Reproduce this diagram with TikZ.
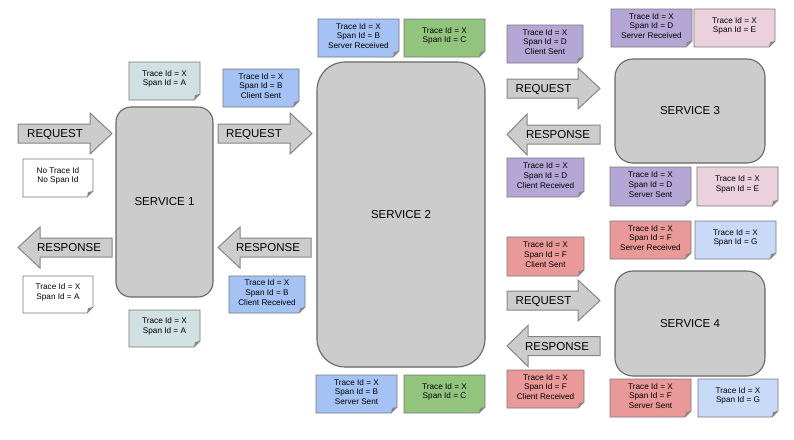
\documentclass[tikz,border=0pt]{standalone}
\usepackage{fontspec}
\setmainfont{Liberation Sans}
\usetikzlibrary{shapes.misc}

% palette
\definecolor{boxgray}{HTML}{CCCCCC}
\definecolor{svcline}{HTML}{666666}
\definecolor{arrline}{HTML}{858585}
\definecolor{noteline}{HTML}{777777}
\definecolor{foldgray}{HTML}{8A8A8A}
\definecolor{spanA}{HTML}{D0E0E3}
\definecolor{spanB}{HTML}{A4C2F4}
\definecolor{spanC}{HTML}{93C47D}
\definecolor{spanD}{HTML}{B4A7D6}
\definecolor{spanE}{HTML}{EAD1DC}
\definecolor{spanF}{HTML}{EA9999}
\definecolor{spanG}{HTML}{C9DAF8}

\tikzset{
  service/.style={draw=svcline, line width=1.1pt, fill=boxgray, rounded corners=#1,
    font=\fontsize{11.5}{13}\selectfont, inner sep=0pt},
  arrowbody/.style={draw=arrline, line width=1pt, fill=boxgray, line join=miter},
  arrowlabel/.style={font=\fontsize{11.5}{13}\selectfont, inner sep=0pt,
    text height=8.3pt, text depth=0pt, anchor=center},
  notebody/.style={draw=noteline, line width=0.9pt, line join=miter},
  notetext/.style={font=\fontsize{8.2}{9.7}\selectfont, align=center, inner sep=0pt}
}

% note with a folded lower right corner: name, x1, y1, x2, y2, fill, text
\newcommand\spannote[7]{%
  \filldraw[notebody, fill=#6] (#2,#3) -- (#4,#3) -- (#4,#5-6) -- (#4-6,#5) -- (#2,#5) -- cycle;
  \fill[foldgray] (#4,#5-6) -- (#4-6,#5) -- (#4-5,#5-5) -- cycle;
  \node[notetext] (#1) at ({(#2+#4)/2},{(#3+#5)/2-2}) {#7};
}
% block arrow pointing right: name, tail x, head x, tip x, mid y, label x, text
\newcommand\rightblock[7]{%
  \filldraw[arrowbody] (#2,#5-9.5) -- (#3,#5-9.5) -- (#3,#5-20.5) -- (#4,#5)
    -- (#3,#5+20.5) -- (#3,#5+9.5) -- (#2,#5+9.5) -- cycle;
  \node[arrowlabel] (#1) at (#6,#5) {#7};
}
% block arrow pointing left: name, tip x, head x, tail x, mid y, label x, text
\newcommand\leftblock[7]{%
  \filldraw[arrowbody] (#4,#5-9.5) -- (#3,#5-9.5) -- (#3,#5-20.5) -- (#2,#5)
    -- (#3,#5+20.5) -- (#3,#5+9.5) -- (#4,#5+9.5) -- cycle;
  \node[arrowlabel] (#1) at (#6,#5) {#7};
}

\begin{document}
\begin{tikzpicture}[x=1pt, y=-1pt]
\useasboundingbox (0,0) rectangle (794,439);

% services
\node[service=15pt, minimum width=97pt, minimum height=190pt] (s1) at (164.5,202) {SERVICE 1};
\node[service=28pt, minimum width=168pt, minimum height=305pt] (s2) at (401,214.5) {SERVICE 2};
\node[service=18pt, minimum width=150pt, minimum height=104pt] (s3) at (690,111) {SERVICE 3};
\node[service=18pt, minimum width=150pt, minimum height=105pt] (s4) at (690,323.5) {SERVICE 4};

% requests and responses
\rightblock{req1}{18}{90}{112}{133.5}{55}{REQUEST}
\rightblock{req2}{218}{290}{312}{133.5}{254}{REQUEST}
\rightblock{req3}{507}{578}{600}{88.5}{543.5}{REQUEST}
\rightblock{req4}{507}{578}{600}{300.5}{543.5}{REQUEST}
\leftblock{res1}{18}{40}{112}{247.5}{69}{RESPONSE}
\leftblock{res2}{218}{240}{311}{247.5}{268}{RESPONSE}
\leftblock{res3}{507}{527}{600}{134.5}{558}{RESPONSE}
\leftblock{res4}{507}{528}{600}{346}{557}{RESPONSE}

% service 1
\spannote{nIn}{23}{159}{93}{197}{white}{No Trace Id\\No Span Id}
\spannote{nOut}{23}{276}{93}{313}{white}{Trace Id = X\\Span Id = A}
\spannote{aTop}{129}{62}{200}{100}{spanA}{Trace Id = X\\Span Id = A}
\spannote{aBot}{129}{310}{200}{347}{spanA}{Trace Id = X\\Span Id = A}
\spannote{bCS}{223}{69}{299}{107}{spanB}{Trace Id = X\\Span Id = B\\Client Sent}
\spannote{bCR}{229}{276}{305}{313}{spanB}{Trace Id = X\\Span Id = B\\Client Received}

% service 2
\spannote{bSR}{318}{19}{399}{57}{spanB}{Trace Id = X\\Span Id = B\\Server Received}
\spannote{cTop}{404}{19}{485}{57}{spanC}{Trace Id = X\\Span Id = C}
\spannote{bSS}{316}{375}{397}{413}{spanB}{Trace Id = X\\Span Id = B\\Server Sent}
\spannote{cBot}{404}{375}{485}{413}{spanC}{Trace Id = X\\Span Id = C}

% service 3
\spannote{dCS}{507}{25}{583}{63}{spanD}{Trace Id = X\\Span Id = D\\Client Sent}
\spannote{dSR}{611}{9}{692}{47}{spanD}{Trace Id = X\\Span Id = D\\Server Received}
\spannote{eTop}{694}{9}{775}{47}{spanE}{Trace Id = X\\Span Id = E}
\spannote{dCR}{507}{158}{584}{197}{spanD}{Trace Id = X\\Span Id = D\\Client Received}
\spannote{dSS}{610}{167}{691}{206}{spanD}{Trace Id = X\\Span Id = D\\Server Sent}
\spannote{eBot}{697}{167}{778}{206}{spanE}{Trace Id = X\\Span Id = E}

% service 4
\spannote{fCS}{507}{237}{584}{276}{spanF}{Trace Id = X\\Span Id = F\\Client Sent}
\spannote{fSR}{610}{221}{691}{259}{spanF}{Trace Id = X\\Span Id = F\\Server Received}
\spannote{gTop}{695}{221}{776}{259}{spanG}{Trace Id = X\\Span Id = G}
\spannote{fCR}{507}{370}{584}{408}{spanF}{Trace Id = X\\Span Id = F\\Client Received}
\spannote{fSS}{610}{379}{691}{417}{spanF}{Trace Id = X\\Span Id = F\\Server Sent}
\spannote{gBot}{698}{379}{778}{417}{spanG}{Trace Id = X\\Span Id = G}
\end{tikzpicture}
\end{document}
